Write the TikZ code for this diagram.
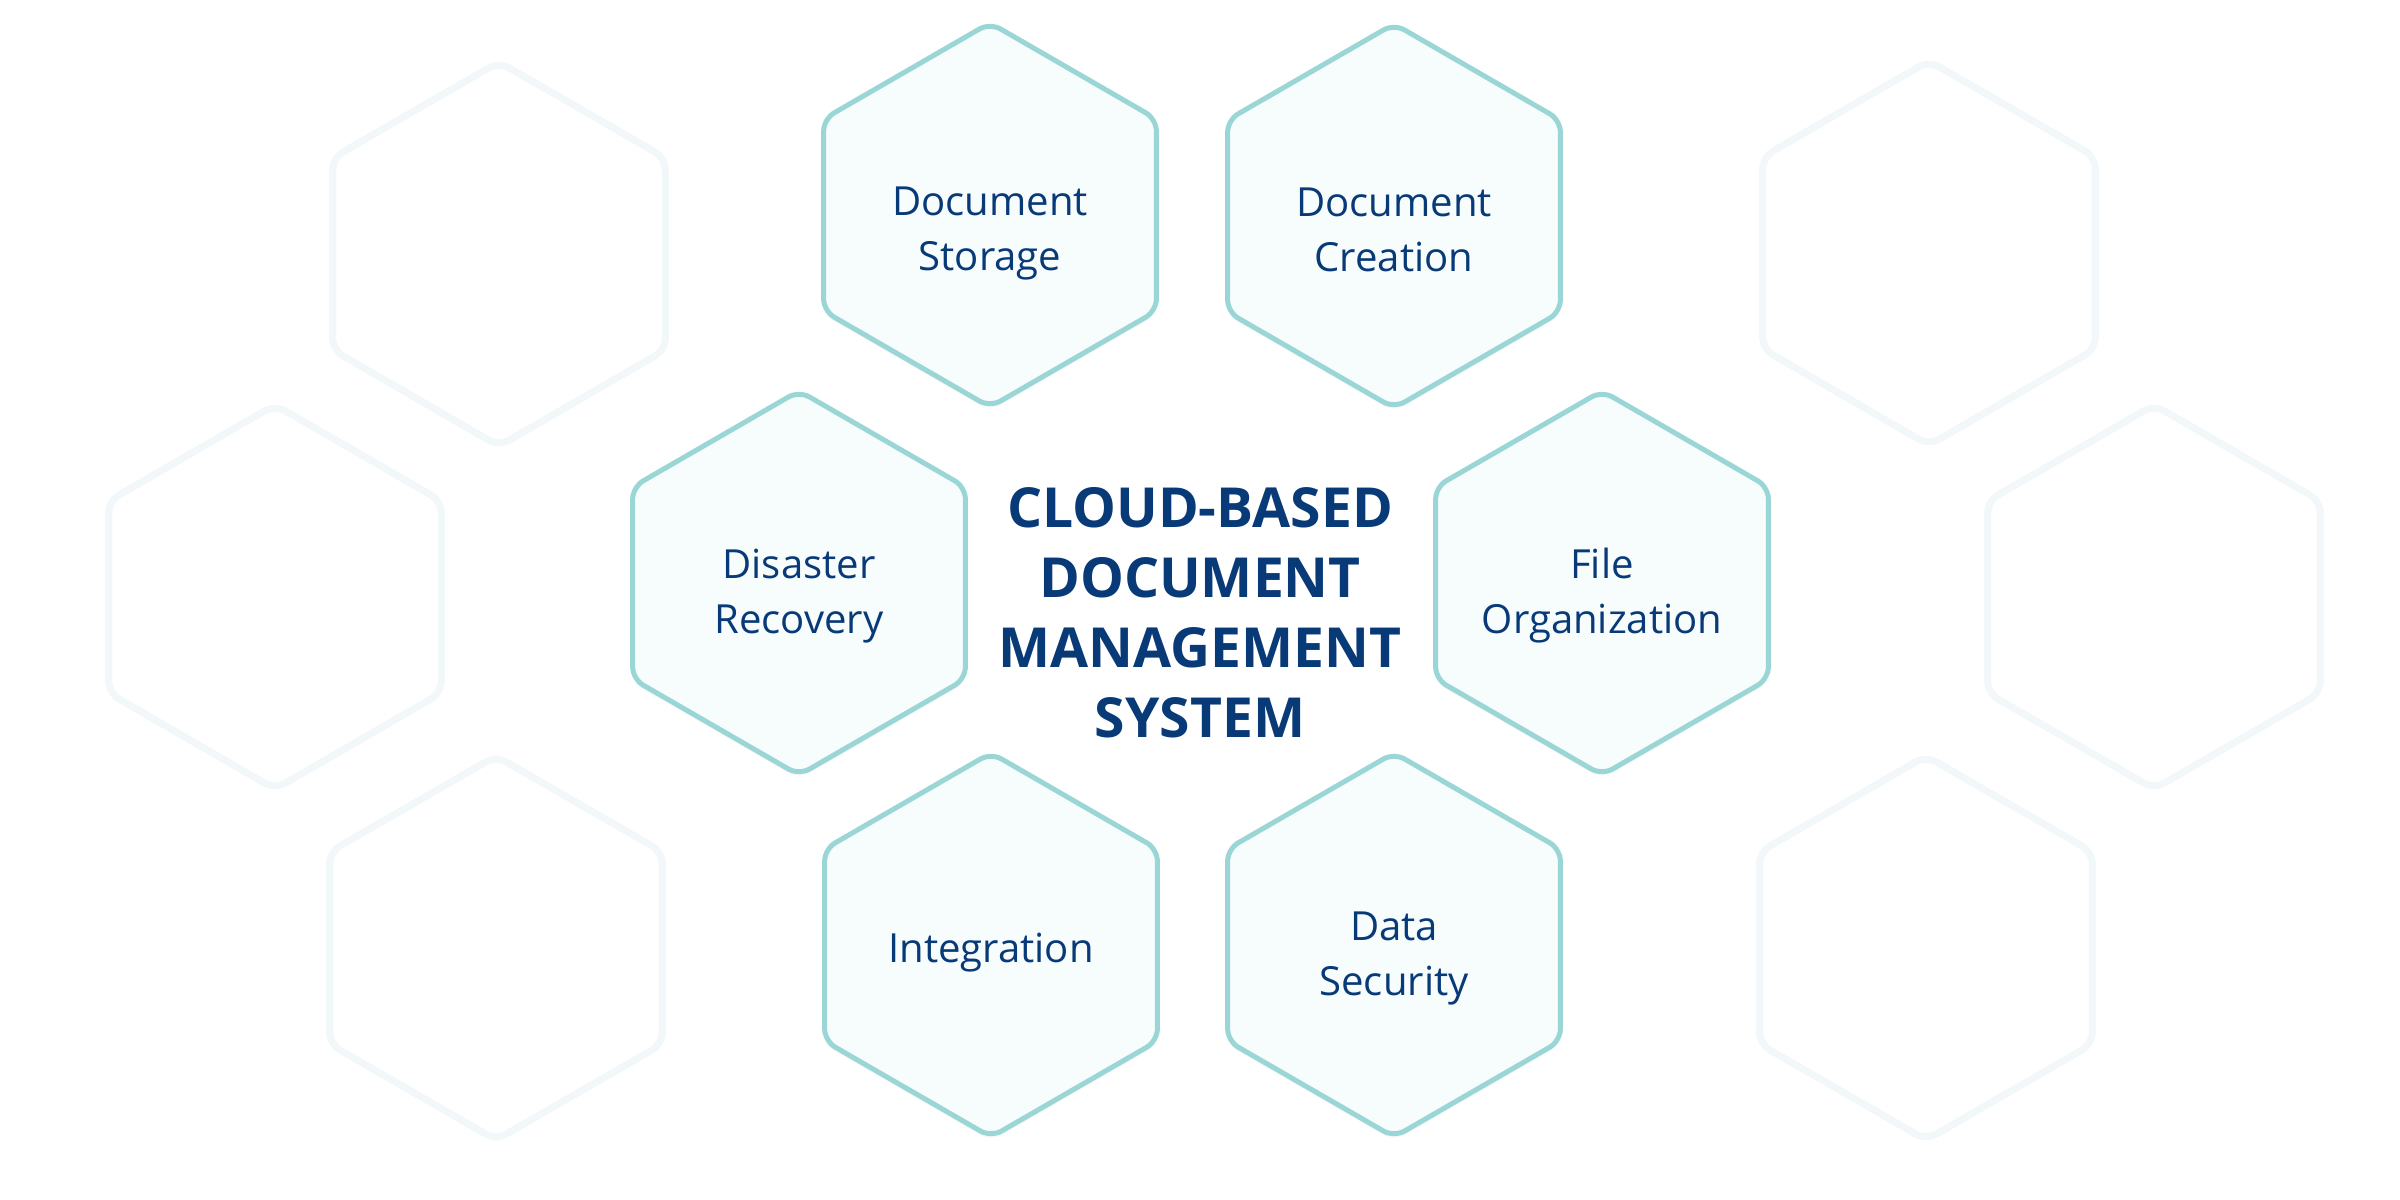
\documentclass[tikz,border=0pt]{standalone}
\usepackage{fontspec}
\setmainfont{Open Sans}
\usetikzlibrary{shapes.geometric,shadows}
\definecolor{hexline}{RGB}{155,214,215}
\definecolor{hexfill}{RGB}{247,252,253}
\definecolor{ghostline}{RGB}{242,247,249}
\definecolor{navy}{RGB}{9,58,120}
\begin{document}
\begin{tikzpicture}[x=0.01cm,y=-0.01cm,
  hexshape/.style={regular polygon,regular polygon sides=6,shape border rotate=30,minimum size=3.84cm,inner sep=0pt,rounded corners=0.12cm},
  hexcell/.style={hexshape,draw=hexline,line width=0.05cm,fill=hexfill,drop shadow={shadow xshift=0pt,shadow yshift=-0.04cm,opacity=0.06}},
  ghost/.style={hexshape,draw=ghostline,line width=0.07cm,fill=white},
  hextext/.style={text=navy,font=\fontsize{11.4}{15.6}\selectfont,align=center,anchor=base},
  title/.style={text=navy,font=\bfseries\fontsize{15.7}{19.9}\selectfont,align=center}]
\useasboundingbox (0,0) rectangle (2400,1200);

\foreach \x/\y/\name in {499/254/g1,275/597/g2,496/948/g3,1929/253/g4,2154/597/g5,1926/948/g6}
{
\node[ghost] (\name) at (\x,\y) {};
}

\foreach \x/\y/\name/\dy/\txt in {990/215/storage/-0.55cm/{Document\\Storage},1394/216/creation/-0.55cm/{Document\\Creation},799/583/recovery/-0.50cm/{Disaster\\Recovery},1602/583/fileorg/-0.50cm/{File\\Organization},991/945/integration/-0.17cm/{Integration},1394/945/security/-0.50cm/{Data\\Security}}
{
\node[hexcell] (\name) at (\x,\y) {};
\node[hextext] (\name-txt) at ([yshift=\dy]\name.center) {\txt};
}

\node[title] (dms) at (1200,613) {CLOUD-BASED\\DOCUMENT\\MANAGEMENT\\SYSTEM};
\end{tikzpicture}
\end{document}
